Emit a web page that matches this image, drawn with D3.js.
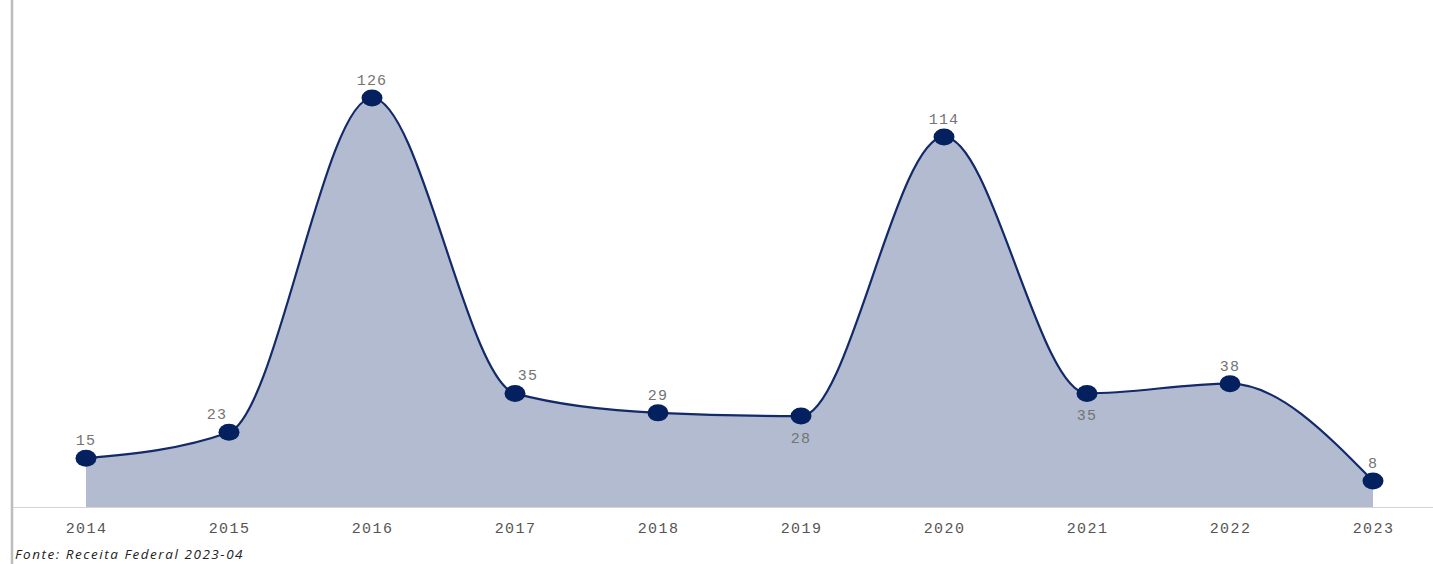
<!DOCTYPE html>
<html>
<head>
<meta charset="utf-8">
<script src="https://cdn.jsdelivr.net/npm/d3@7"></script>
<style>
  body { margin: 0; background: #fff; }
  svg { display: block; }
</style>
</head>
<body>
<div id="chart"></div>
<script>
// Data
var years = ["2014", "2015", "2016", "2017", "2018", "2019", "2020", "2021", "2022", "2023"];
var values = [15, 23, 126, 35, 29, 28, 114, 35, 38, 8];
// where each value label sits relative to its point
var labelSide = ["above", "aboveLeft", "above", "aboveRight", "above", "below", "above", "below", "above", "above"];
var source = "Fonte: Receita Federal 2023-04";

function drawChart(container) {
    "use strict";

    var width = 1433,
        height = 564,
        plotLeft = 12,
        baseline = 507,
        monoFont = "'Liberation Mono', 'DejaVu Sans Mono', monospace",
        svg = container.append("svg")
            .attr("width", width)
            .attr("height", height),

        data = years.map(function (y, i) {
            return {year: y, value: values[i], side: labelSide[i]};
        }),

        x = d3.scalePoint()
            .domain(years)
            .range([86, 1373]),
        y = d3.scaleLinear()
            .domain([0, 126])
            .range([baseline, 98]),

        area = d3.area()
            .x(function (d) { return x(d.year); })
            .y0(baseline)
            .y1(function (d) { return y(d.value); })
            .curve(d3.curveMonotoneX),
        line = d3.line()
            .x(function (d) { return x(d.year); })
            .y(function (d) { return y(d.value); })
            .curve(d3.curveMonotoneX);

    // filled area
    svg.append("path")
        .datum(data)
        .attr("fill", "#b3bbd0")
        .attr("d", area);

    // bottom axis line
    svg.append("line")
        .attr("x1", plotLeft).attr("x2", width)
        .attr("y1", baseline + 0.5).attr("y2", baseline + 0.5)
        .attr("stroke", "#d4d4d4")
        .attr("stroke-width", 1);

    // left axis line
    svg.append("line")
        .attr("x1", 12).attr("x2", 12)
        .attr("y1", 0).attr("y2", height)
        .attr("stroke", "#bdbdbd")
        .attr("stroke-width", 2.5);

    // line
    svg.append("path")
        .datum(data)
        .attr("fill", "none")
        .attr("stroke", "#12296a")
        .attr("stroke-width", 2.2)
        .attr("d", line);

    // markers
    svg.selectAll("ellipse.pt")
        .data(data)
        .enter().append("ellipse")
        .attr("class", "pt")
        .attr("cx", function (d) { return x(d.year); })
        .attr("cy", function (d) { return y(d.value); })
        .attr("rx", 10.5)
        .attr("ry", 8.5)
        .attr("fill", "#04205e");

    // value labels
    svg.selectAll("text.val")
        .data(data)
        .enter().append("text")
        .attr("class", "val")
        .attr("x", function (d) {
            var dx = 0;
            if (d.side === "aboveLeft") { dx = -12; }
            if (d.side === "aboveRight") { dx = 13; }
            return x(d.year) + dx;
        })
        .attr("y", function (d) {
            return y(d.value) + (d.side === "below" ? 27 : -13);
        })
        .attr("text-anchor", "middle")
        .style("font-family", monoFont)
        .style("font-size", "15px")
        .style("letter-spacing", "1.2px")
        .style("fill", "#747474")
        .text(function (d) { return d.value; });

    // x axis labels
    svg.append("g")
        .attr("transform", "translate(0," + baseline + ")")
        .call(d3.axisBottom(x).tickSize(0).tickPadding(15))
        .call(function (g) {
            g.select(".domain").remove();
            g.selectAll("text")
                .style("font-family", monoFont)
                .style("font-size", "15px")
                .style("letter-spacing", "1.4px")
                .style("fill", "#555");
        });

    // source note
    svg.append("text")
        .attr("x", 15)
        .attr("y", 559)
        .style("font-family", "'Open Sans', sans-serif")
        .style("font-style", "italic")
        .style("font-size", "13.5px")
        .style("letter-spacing", "1.55px")
        .style("fill", "#222")
        .text(source);
}

drawChart(d3.select("#chart"));
</script>
</body>
</html>
